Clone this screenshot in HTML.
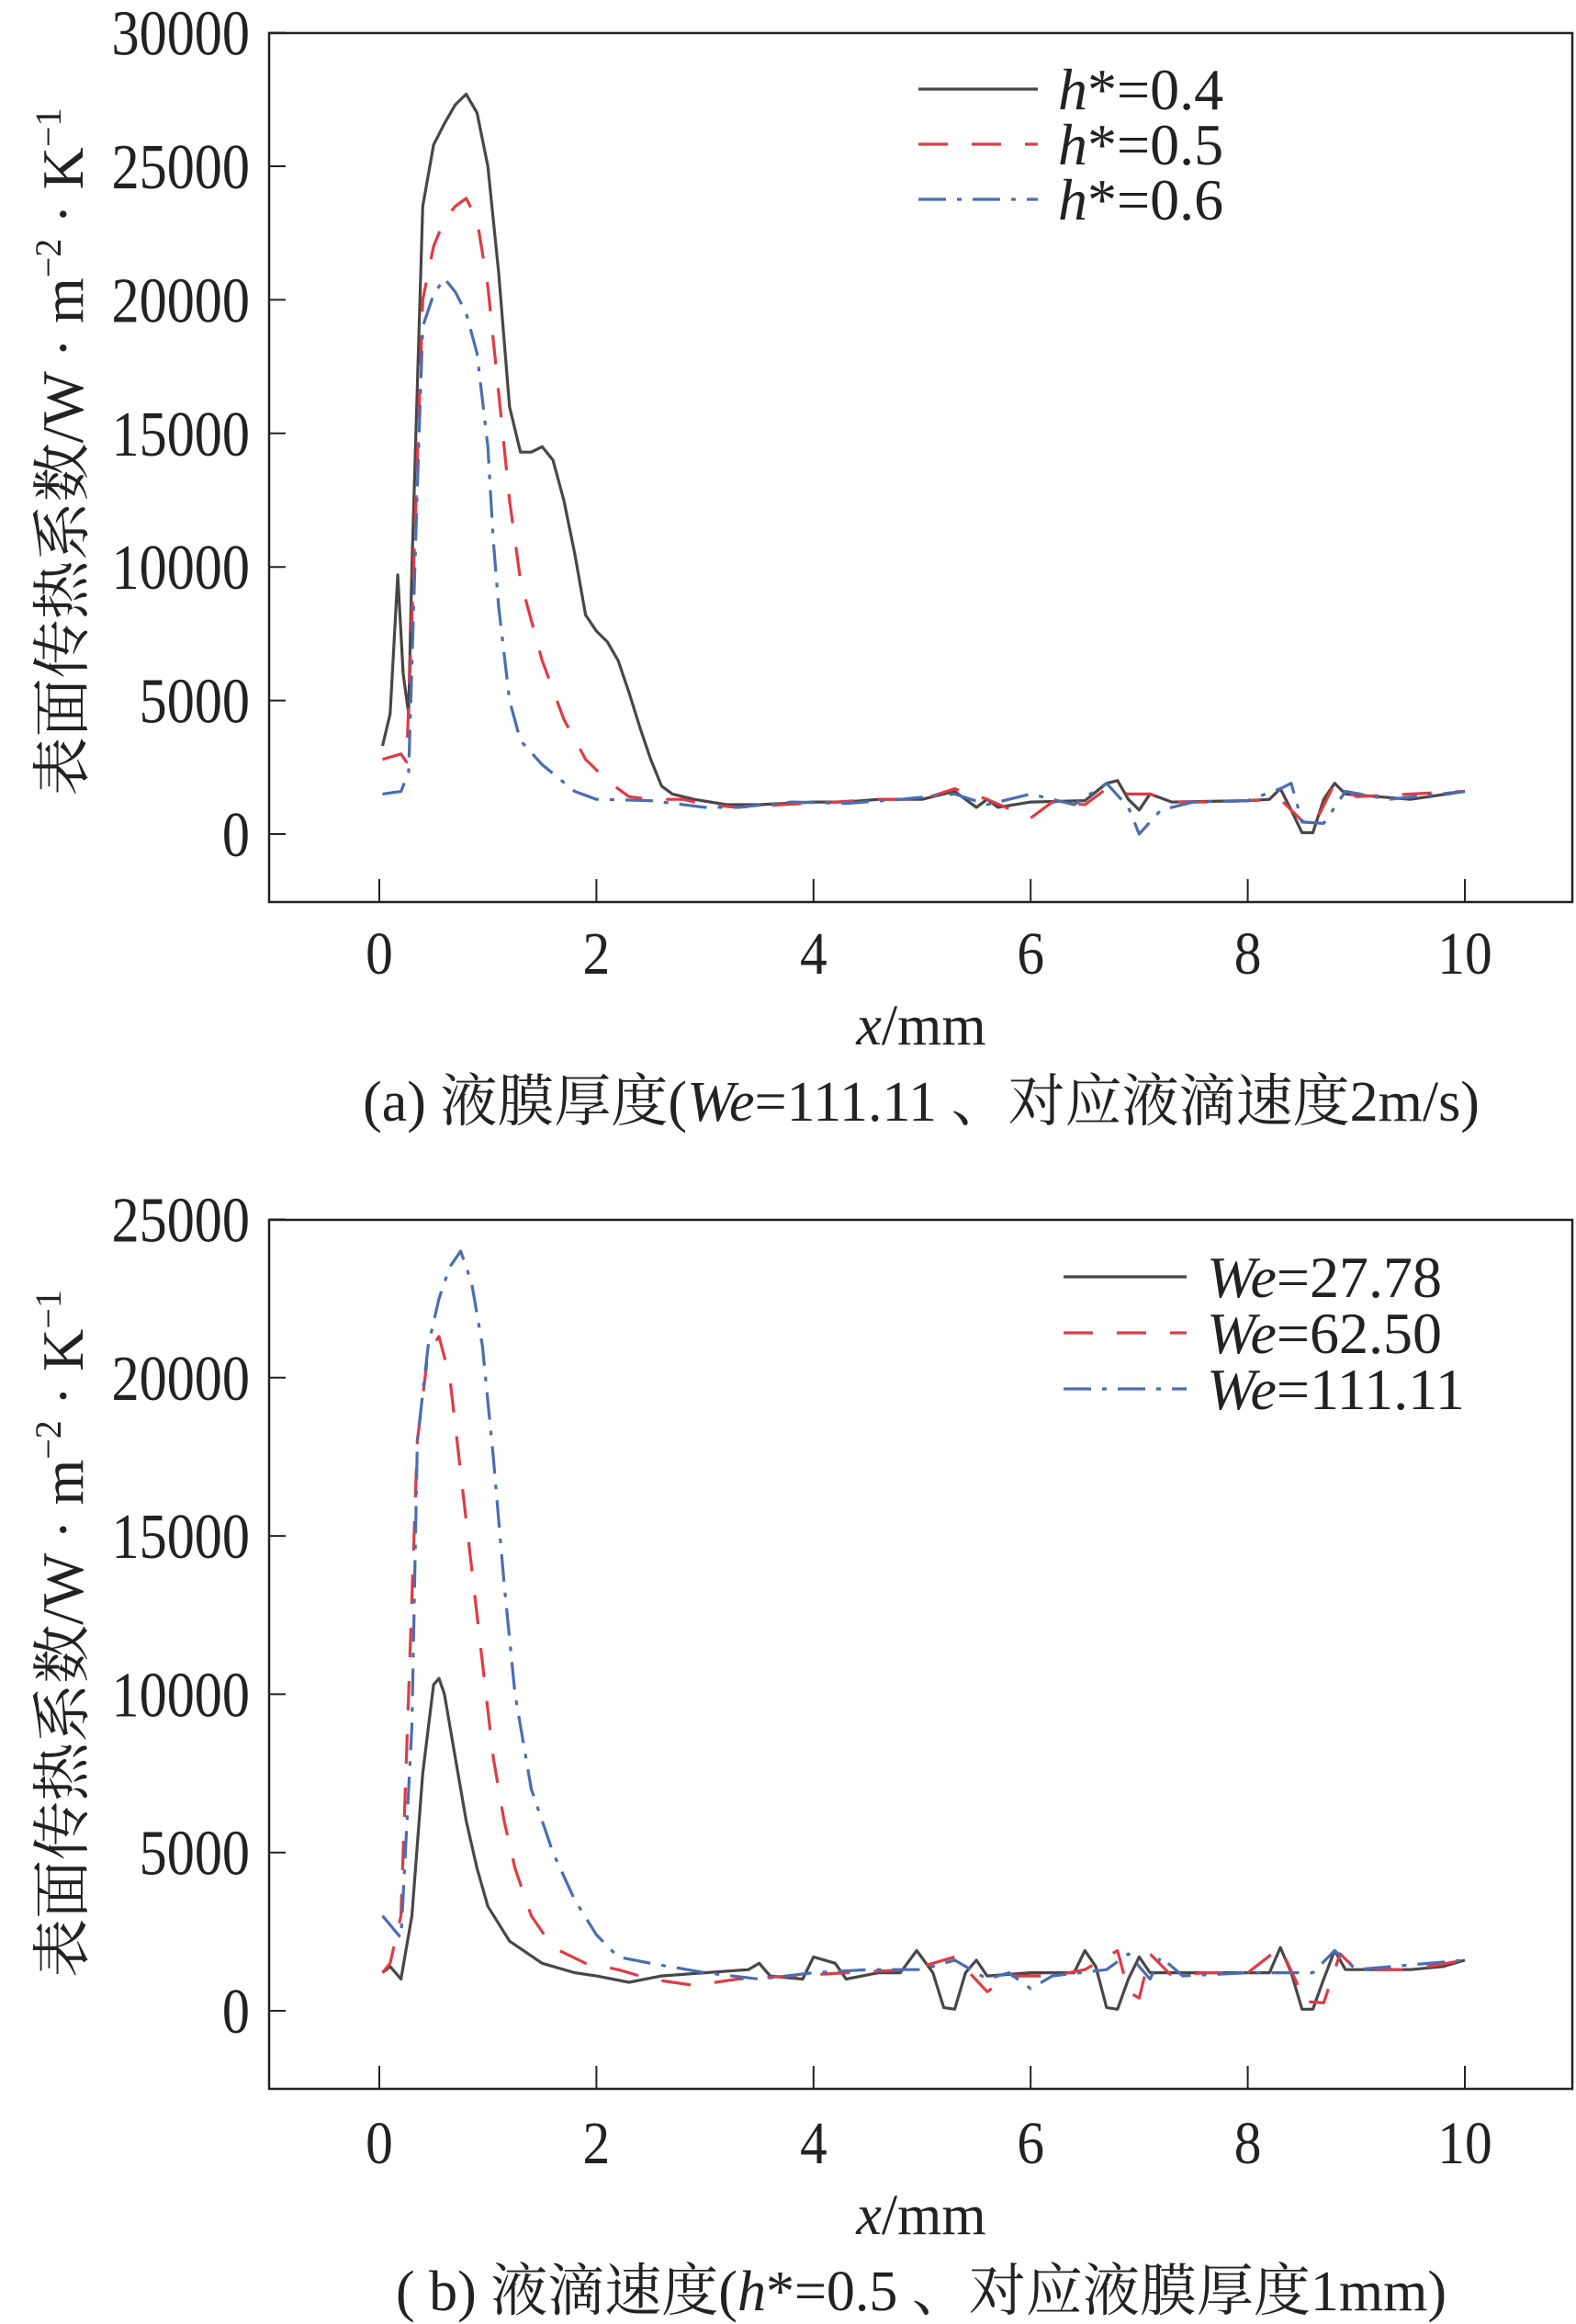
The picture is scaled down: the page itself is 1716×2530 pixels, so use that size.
<!DOCTYPE html>
<html><head><meta charset="utf-8"><style>
html,body{margin:0;padding:0;background:#fff;}
svg{display:block;}
text{font-family:"Liberation Serif","Noto Serif CJK SC",serif;fill:#222;}
</style></head><body>
<svg id="chart" width="1716" height="2530" viewBox="0 0 1716 2530" xmlns="http://www.w3.org/2000/svg"></svg>
<script>
const xTicks=[0,2,4,6,8,10];
const yTicksA=[0,5000,10000,15000,20000,25000,30000];
const yTicksB=[0,5000,10000,15000,20000,25000];
const seriesNamesA=["h*=0.4","h*=0.5","h*=0.6"];
const seriesNamesB=["We=27.78","We=62.50","We=111.11"];
const a1x=[0.03,0.1,0.17,0.22,0.27,0.3,0.4,0.5,0.6,0.7,0.8,0.9,1.0,1.1,1.2,1.3,1.4,1.5,1.6,1.7,1.8,1.9,2.0,2.1,2.2,2.3,2.4,2.5,2.6,2.7,2.9,3.2,3.5,4,4.3,4.6,5.0,5.3,5.5,5.6,5.7,6,6.5,6.7,6.8,6.9,7.0,7.1,7.3,8.0,8.2,8.3,8.4,8.5,8.6,8.7,8.8,8.9,9.5,10];
const a1y=[3300,4500,9700,6000,4500,10000,23500,25800,26600,27300,27700,27000,25000,21000,16000,14300,14300,14500,14000,12500,10500,8200,7600,7200,6500,5300,4000,2800,1800,1500,1300,1100,1100,1200,1200,1300,1300,1600,1000,1300,1000,1200,1250,1900,2000,1300,900,1500,1200,1250,1300,1700,900,50,50,1300,1900,1500,1300,1600];
const a2x=[0.03,0.2,0.25,0.3,0.4,0.5,0.6,0.7,0.8,0.9,1.0,1.1,1.2,1.3,1.5,1.7,1.9,2.1,2.3,2.5,2.8,3.0,3.3,3.7,4.2,4.6,5.0,5.3,5.6,6,6.2,6.5,6.7,6.9,7.1,7.3,7.7,8.3,8.5,8.6,8.8,9,10];
const a2y=[2800,3000,2700,8000,20000,22000,23000,23500,23800,23000,20500,16500,12500,9500,6500,4300,2800,2000,1400,1300,1300,1100,1000,1100,1200,1300,1300,1700,1300,600,1200,1100,1700,1500,1500,1200,1200,1300,500,250,1900,1400,1600];
const a3x=[0.03,0.2,0.27,0.35,0.4,0.5,0.6,0.7,0.8,0.9,1.0,1.05,1.1,1.2,1.3,1.5,1.8,2.0,2.5,3.0,3.3,3.8,4.3,4.8,5.3,5.6,6,6.4,6.7,6.9,7.0,7.2,7.5,8.0,8.3,8.4,8.5,8.7,8.9,9.3,10];
const a3y=[1500,1600,2300,13000,19000,20200,20800,20300,19500,18000,14500,11000,8500,5000,3500,2600,1600,1300,1250,1000,1000,1200,1150,1300,1500,1100,1500,1100,1900,1000,0,900,1200,1250,1700,1900,450,400,1600,1300,1600];
const b1x=[0.03,0.1,0.2,0.3,0.4,0.5,0.55,0.6,0.7,0.8,0.9,1.0,1.2,1.5,1.8,2.0,2.3,2.6,3,3.4,3.5,3.6,3.9,4.0,4.2,4.3,4.6,4.8,4.95,5.1,5.2,5.3,5.4,5.5,5.6,6,6.4,6.5,6.6,6.7,6.8,6.9,7.0,7.1,8.2,8.3,8.4,8.5,8.6,8.7,8.8,8.9,9.5,9.8,10];
const b1y=[1200,1400,1000,3000,7500,10300,10500,10000,8000,6000,4500,3300,2200,1500,1200,1100,900,1100,1200,1300,1500,1100,1000,1700,1500,1000,1200,1200,1900,1200,100,50,1200,1600,1100,1200,1200,1900,1400,100,50,1000,1700,1200,1200,2000,1200,50,50,1000,1900,1300,1300,1400,1600];
const b2x=[0.03,0.1,0.2,0.27,0.35,0.45,0.55,0.65,0.75,0.85,0.95,1.05,1.15,1.25,1.4,1.6,1.9,2.2,2.5,2.9,3.3,3.8,4.3,4.9,5.3,5.6,5.8,6.2,6.5,6.8,6.9,7.0,7.1,7.3,7.6,8.0,8.3,8.45,8.5,8.7,8.85,9.0,9.5,10];
const b2y=[1200,1500,3000,10000,18000,20800,21300,20000,17000,14000,11000,8000,6000,4500,3000,2000,1500,1300,1000,800,1000,1100,1200,1300,1700,600,1100,1100,1300,1900,600,400,1800,1100,1200,1200,2000,900,300,250,1800,1300,1300,1600];
const b3x=[0.03,0.2,0.3,0.35,0.45,0.55,0.65,0.75,0.85,0.95,1.05,1.15,1.25,1.4,1.6,1.8,2.0,2.2,2.5,3,3.5,4,4.5,5,5.3,5.6,5.8,6.0,6.2,6.7,6.9,7.1,7.2,7.4,8,8.3,8.5,8.6,8.8,9.0,10];
const b3y=[3000,2300,9000,18000,21000,22500,23500,24000,23000,21000,17500,13500,10000,7000,5000,3500,2400,1700,1500,1200,1000,1200,1300,1300,1600,1000,1200,700,1100,1300,1800,1000,1700,1100,1200,1200,1200,1200,1900,1300,1600];

const NS="http://www.w3.org/2000/svg";
const svg=document.getElementById('chart');
function mk(tag,attrs,parent){const e=document.createElementNS(NS,tag);for(const k in attrs)e.setAttribute(k,attrs[k]);(parent||svg).appendChild(e);return e;}
const styles=[{stroke:"#4a4646",dash:""},{stroke:"#e03a44",dash:"32 26"},{stroke:"#4a6db3",dash:"30 12 5 12"}];

function panel(cfg){
  const g=mk('g',{});
  
  
  const L=293,R=1712,T=cfg.top,B=cfg.bottom;
  const x=v=>413+(v/10)*(1595-413);
  const y=v=>cfg.y0+(v/5000)*(-cfg.per5000);
  const box=mk('rect',{x:L,y:T,width:R-L,height:B-T,fill:'none',stroke:'#222','stroke-width':2.5},g);
  
  
  xTicks.forEach(t=>{
    const X=x(t);
    const tl=mk('line',{x1:X,x2:X,y1:B,y2:B-25,stroke:'#222','stroke-width':2},g);
    
    
    const tx=mk('text',{x:X,y:cfg.tickLabelY,'font-size':66,'text-anchor':'middle',transform:`translate(${X},0) scale(0.9,1) translate(${-X},0)`},g);
    tx.textContent=t;
    
    
  });
  cfg.yTicks.forEach(t=>{
    const Y=y(t);
    const tl=mk('line',{x1:L,x2:L+18,y1:Y,y2:Y,stroke:'#222','stroke-width':2},g);
    
    
    const tx=mk('text',{x:272,y:Y+24,'font-size':70,'text-anchor':'end',transform:`translate(272,0) scale(0.86,1) translate(-272,0)`},g);
    tx.textContent=t;
    
    
  });
  const cy=(T+y(0))/2+20;
  const yt=mk('text',{x:0,y:0,'font-size':64,'text-anchor':'middle',transform:`translate(90,${cy}) rotate(-90)`},g);
  yt.innerHTML='表面传热系数/W · m<tspan dy="-24" font-size="40">−2</tspan><tspan dy="24"> · K</tspan><tspan dy="-24" font-size="40">−1</tspan>';
  
  
  const xt=mk('text',{x:1003,y:cfg.xTitleY,'font-size':62,'text-anchor':'middle'},g);
  xt.innerHTML='<tspan font-style="italic">x</tspan>/mm';
  
  
  const cap=mk('text',{x:1003,y:cfg.capY,'font-size':62,'text-anchor':'middle'},g);
  cap.innerHTML=cfg.caption;
  
  
  cfg.series.forEach((s,i)=>{
    const d=s.xs.map((v,j)=>(j?'L':'M')+x(v).toFixed(1)+','+y(s.ys[j]).toFixed(1)).join(' ');
    const p=mk('path',{d:d,fill:'none',stroke:styles[i].stroke,'stroke-width':3.2,'stroke-dasharray':styles[i].dash,'stroke-linejoin':'round'},g);
    
    
    const ly=cfg.legY+i*cfg.legStep;
    const ll=mk('line',{x1:cfg.legX1,x2:cfg.legX2,y1:ly,y2:ly,stroke:styles[i].stroke,'stroke-width':3.2,'stroke-dasharray':styles[i].dash},g);
    
    
    const lt=mk('text',{x:cfg.legX2+22,y:ly+22,'font-size':64},g);
    lt.innerHTML=cfg.legendHtml(cfg.names[i]);
    
    
  });
}
panel({name:'panel-a',top:36,bottom:982,y0:908,per5000:145.4,yTicks:yTicksA,tickLabelY:1060,xTitleY:1137,capY:1220,
  caption:'(a) 液膜厚度(<tspan font-style="italic">We</tspan>=111.11 、对应液滴速度2m/s)',
  series:[{xs:a1x,ys:a1y},{xs:a2x,ys:a2y},{xs:a3x,ys:a3y}],
  names:seriesNamesA,legX1:1000,legX2:1130,legY:97,legStep:60,
  legendHtml:n=>'<tspan font-style="italic">h</tspan>'+n.slice(1)});
panel({name:'panel-b',top:1328,bottom:2274,y0:2189,per5000:172.3,yTicks:yTicksB,tickLabelY:2355,xTitleY:2432,capY:2515,
  caption:'( b) 液滴速度(<tspan font-style="italic">h</tspan>*=0.5 、对应液膜厚度1mm)',
  series:[{xs:b1x,ys:b1y},{xs:b2x,ys:b2y},{xs:b3x,ys:b3y}],
  names:seriesNamesB,legX1:1158,legX2:1292,legY:1390,legStep:61,
  legendHtml:n=>'<tspan font-style="italic">We</tspan>'+n.slice(2)});
</script>
</body></html>
